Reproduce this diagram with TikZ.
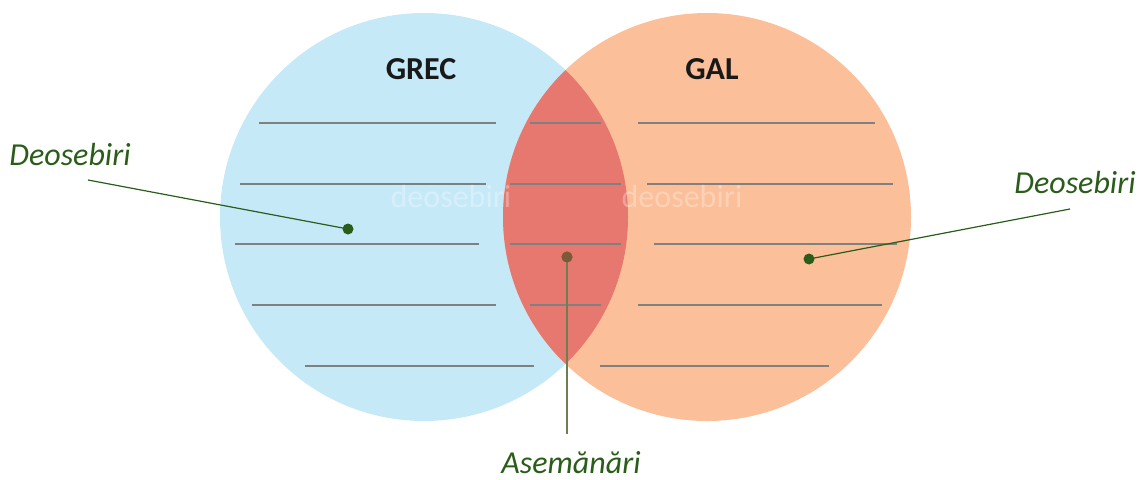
\documentclass[tikz,border=0pt]{standalone}
\usepackage{fontspec}
\setmainfont{Carlito}
\definecolor{grecblue}{HTML}{C6E9F8}
\definecolor{galorange}{HTML}{FBBF99}
\definecolor{commonred}{HTML}{E77870}
\definecolor{rulegray}{HTML}{808080}
\definecolor{notegreen}{HTML}{2A5C1A}
\definecolor{stemolive}{HTML}{6B7F50}
\definecolor{dotbrown}{HTML}{7B5A3A}
\begin{document}
\begin{tikzpicture}[
    x=1pt, y=-1pt,
    every node/.style={font=\fontsize{32}{36}\selectfont, inner sep=0pt},
    title/.style={font=\fontsize{32}{36}\selectfont\bfseries, text=black!90, anchor=base},
    note/.style={font=\fontsize{32}{36}\selectfont\itshape, text=notegreen, anchor=base},
    faint/.style={text=white, opacity=0.3, anchor=base},
    rule/.style={draw=rulegray, line width=2pt},
    pin dot/.style={circle, fill=notegreen, minimum size=11pt},
    pin line/.style={draw=notegreen, line width=1.2pt},
]
\useasboundingbox (0,0) rectangle (1139,479);

% ---------- Circles ----------
\fill[grecblue]  (424,217) circle[radius=204pt];
\fill[galorange] (707,217) circle[radius=204pt];
\begin{scope}
  \clip (424,217) circle[radius=204pt];
  \fill[commonred] (707,217) circle[radius=204pt];
\end{scope}

% ---------- Writing lines ----------
\foreach \ya/\xa/\xb in {123/259/496, 184/240/486, 244/235/479, 305/252/496, 366/305/534,
                         123/530/601, 184/510/621, 244/510/621, 305/530/601,
                         123/638/875, 184/647/893, 244/654/897, 305/638/882, 366/600/829}
  \draw[rule] (\xa,\ya) -- (\xb,\ya);

% ---------- Faint labels ----------
\node[faint] (wm1) at (451,207) {deosebiri};
\node[faint] (wm2) at (682,207) {deosebiri};

% ---------- Titles ----------
\node[title] (grec) at (421,79) {GREC};
\node[title] (gal)  at (712,79) {GAL};

% ---------- Notes ----------
\node[note] (leftnote)  at (70,165)  {Deosebiri};
\node[note] (rightnote) at (1075,193) {Deosebiri};
\node[note] (midnote)   at (571,473) {Asemănări};

\coordinate (leftend)  at (88,180);
\coordinate (rightend) at (1070,209);
\coordinate (midend)   at (567,434);

\node[pin dot] (leftdot)  at (348,229) {};
\node[pin dot] (rightdot) at (809,259) {};
\node[pin dot, fill=dotbrown] (middot) at (567,257) {};

\draw[pin line] (leftend) -- (leftdot.center);
\draw[pin line] (rightend) -- (rightdot.center);
\draw[pin line, draw=stemolive, line width=2pt] (middot.center) -- (midend);
\node[pin dot, fill=dotbrown] at (middot) {};

\end{tikzpicture}
\end{document}
